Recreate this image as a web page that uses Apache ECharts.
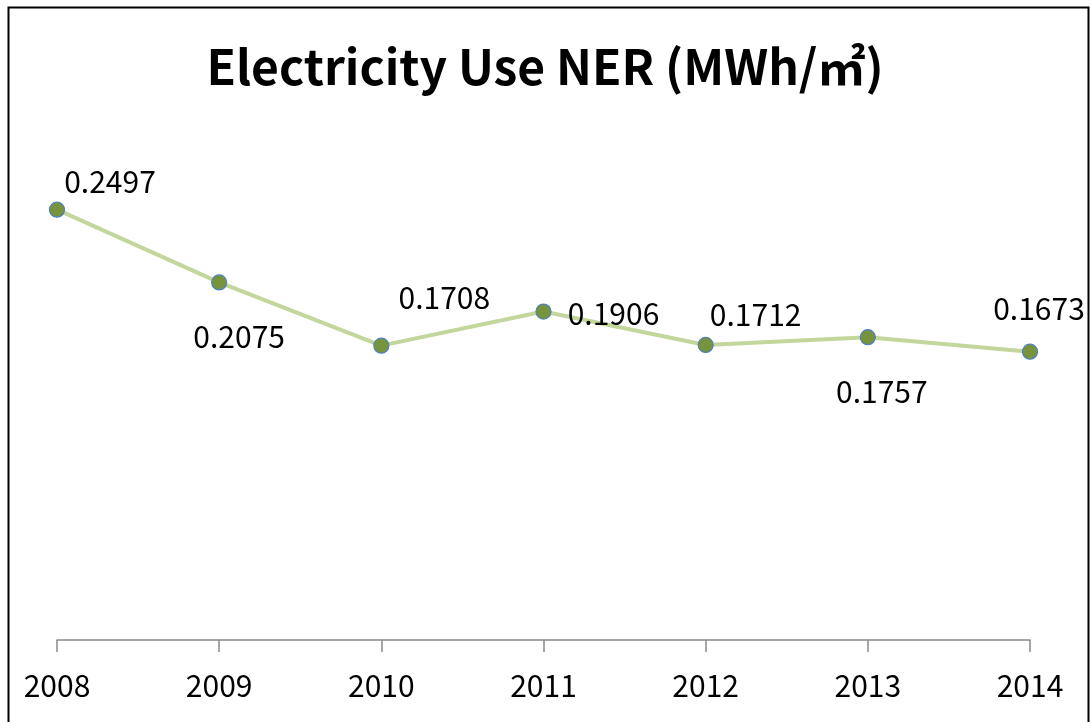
<!DOCTYPE html>
<html>
<head>
<meta charset="utf-8">
<script src="https://cdn.jsdelivr.net/npm/echarts@6/dist/echarts.min.js"></script>
<style>
html, body { margin: 0; padding: 0; background: #fff; }
#chart { width: 1090px; height: 722px; }
</style>
</head>
<body>
<div id="chart"></div>
<script>
var years = ['2008', '2009', '2010', '2011', '2012', '2013', '2014'];
var nerValues = [0.2497, 0.2075, 0.1708, 0.1906, 0.1712, 0.1757, 0.1673];
// where each value label sits, relative to its point
var labelOffsets = [[53, -28], [20, 54], [63, -48], [70, 2], [50, -30], [14, 54], [9, -43]];

var seriesData = [];
for (var i = 0; i < nerValues.length; i++) {
    seriesData.push({
        value: nerValues[i],
        label: { offset: labelOffsets[i] }
    });
}

var myChart = echarts.init(document.getElementById('chart'));
var option = {
    backgroundColor: '#fff',
    animation: false,
    title: {
        text: 'Electricity Use NER (MWh/㎡)',
        left: 'center',
        top: 38,
        textStyle: {
            fontFamily: '"Noto Sans CJK KR", "Open Sans", sans-serif',
            fontSize: 48,
            fontWeight: 'bold',
            color: '#000'
        }
    },
    graphic: [{
        type: 'rect',
        shape: { x: 8.5, y: 7.5, width: 1080, height: 760 },
        style: { fill: 'none', stroke: '#000', lineWidth: 2 },
        silent: true
    }],
    grid: { left: 57, right: 60, top: 123, bottom: 82 },
    xAxis: {
        type: 'category',
        data: years,
        boundaryGap: false,
        axisLine: { lineStyle: { color: '#898989', width: 1.5 } },
        axisTick: { show: true, length: 12, lineStyle: { color: '#898989', width: 1.5 } },
        axisLabel: {
            margin: 31,
            fontSize: 30,
            color: '#000',
            fontFamily: '"Noto Sans CJK KR", "Open Sans", sans-serif'
        }
    },
    yAxis: {
        type: 'value',
        min: 0,
        max: 0.3,
        show: false,
        splitLine: { show: false }
    },
    series: [{
        type: 'line',
        data: seriesData,
        symbol: 'circle',
        symbolSize: 15,
        lineStyle: { color: '#c3d69b', width: 4 },
        itemStyle: { color: '#77933c', borderColor: '#4f81bd', borderWidth: 1.2 },
        label: {
            show: true,
            position: 'inside',
            fontSize: 30,
            color: '#000',
            fontFamily: '"Noto Sans CJK KR", "Open Sans", sans-serif',
            formatter: function (p) { return p.value.toFixed(4); }
        }
    }]
};
myChart.setOption(option);
</script>
</body>
</html>
